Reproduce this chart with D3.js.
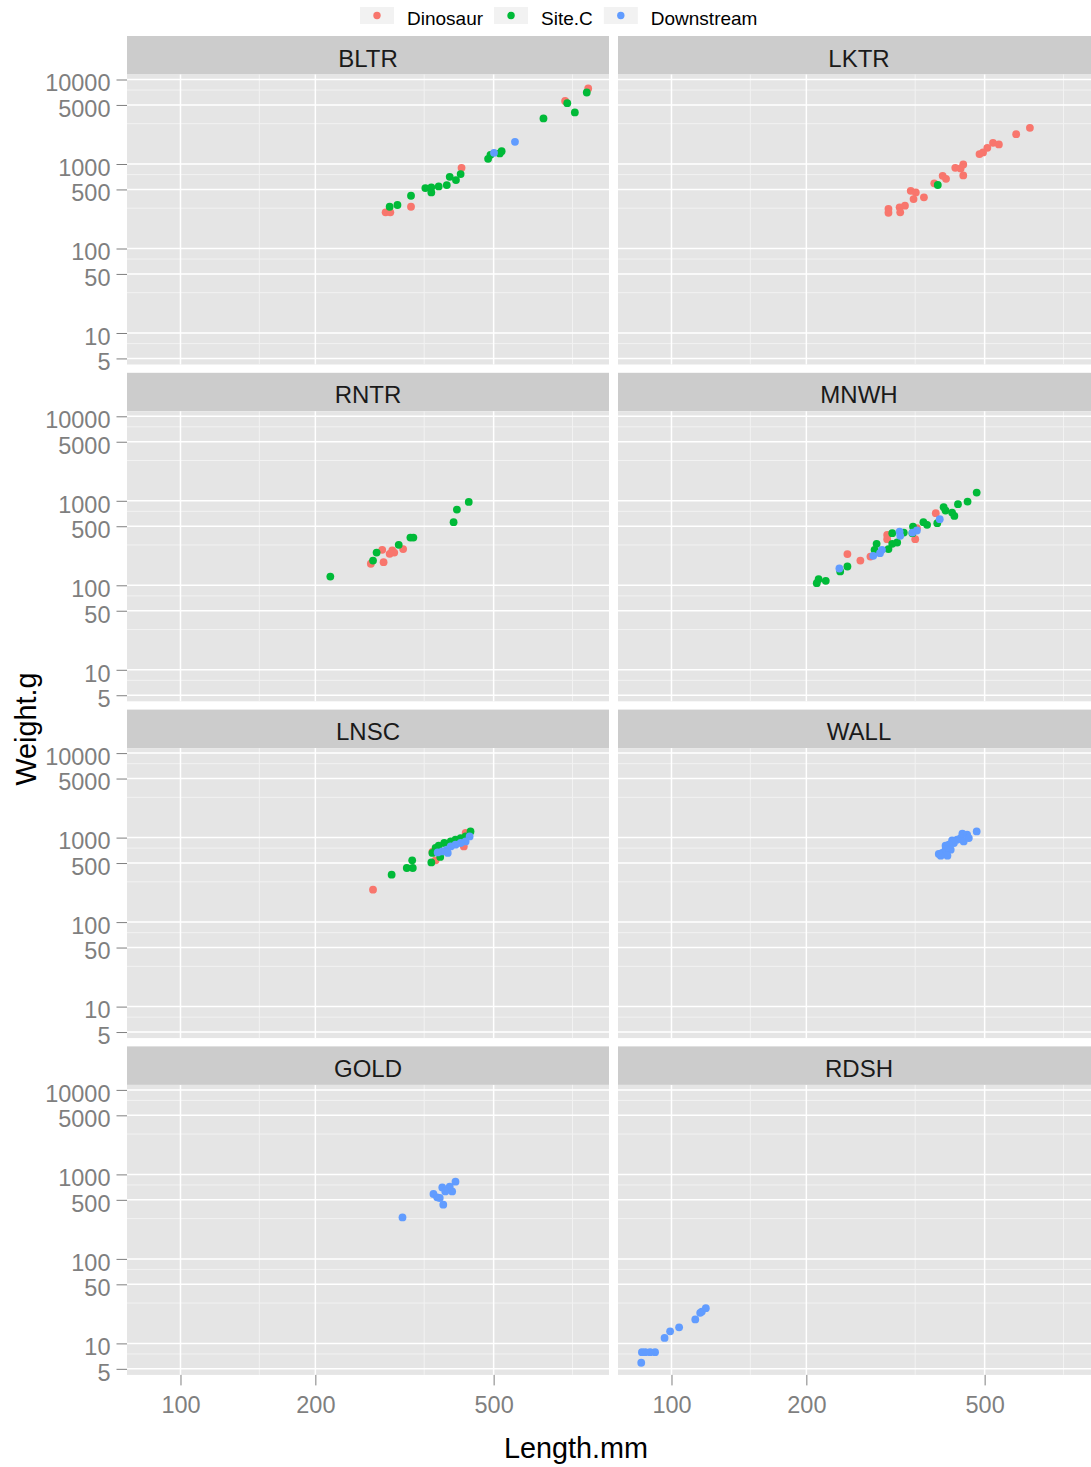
<!DOCTYPE html>
<html><head><meta charset="utf-8">
<script src="https://cdn.jsdelivr.net/npm/d3@7"></script>
<style>
body{margin:0;background:#fff}
text{font-family:"Liberation Sans",Arial,Helvetica,sans-serif}
</style>
</head><body>
<svg id="chart" width="1091" height="1467"></svg>
<script>
// ---------- data (length mm, weight g, group index) ----------
const sites = ["BLTR","LKTR","RNTR","MNWH","LNSC","WALL","GOLD","RDSH"];
const groups = ["Dinosaur","Site.C","Downstream"];
const xTicks = [100,200,500];
const yTicks = [5,10,50,100,500,1000,5000,10000];
const xMinor = [150,350,750];
const yMinor = [7.5,30,75,300,750,3000,7500];

const BLTR = [
 [813,7830,0],[722,5585,0],[424,901,0],[327,312,0],[287,268,0],[294,268,0],
 [807,7015,1],[730,5250,1],[759,4075,1],[646,3460,1],[521,1420,1],[516,1334,1],[486,1152,1],[492,1285,1],
 [422,760,1],[412,646,1],[399,706,1],[393,563,1],[377,543,1],[363,461,1],[363,529,1],[352,519,1],
 [327,421,1],[305,327,1],[293,312,1],
 [558,1828,2],[501,1356,2]
];
const LKTR = [
 [631,2680,0],[588,2254,0],[538,1706,0],[522,1783,0],[507,1554,0],[496,1371,0],[487,1309,0],[448,988,0],
 [442,887,0],[430,901,0],[448,733,0],[403,725,0],[410,668,0],[386,590,0],[342,482,0],[351,461,0],
 [366,403,0],[347,385,0],[332,321,0],[323,307,0],[324,268,0],[305,295,0],[305,265,0],
 [393,564,1]
];
const RNTR = [
 [282,263,0],[297,258,0],[293,236,0],[300,244,0],[314,268,0],[284,188,0],[266,180,0],
 [440,970,1],[414,787,1],[407,559,1],[331,367,1],[326,367,1],[307,301,1],[274,244,1],[269,196,1],[216,127,1]
];
const MNWH = [
 [389,713,0],[353,474,0],[350,351,0],[303,351,0],[303,395,0],[278,219,0],[264,196,0],[247,234,0],
 [480,1250,1],[458,978,1],[436,912,1],[428,663,1],[423,725,1],[409,766,1],[405,840,1],[392,543,1],
 [372,519,1],[365,558,1],[345,414,1],[346,496,1],[330,421,1],[319,321,1],[311,414,1],[311,310,1],
 [305,268,1],[287,310,1],[284,263,1],[247,167,1],[238,146,1],[221,113,1],[213,118,1],[211,106,1],
 [397,606,2],[353,445,2],[345,421,2],[323,432,2],[324,385,2],[295,263,2],[292,240,2],[282,223,2],[237,158,2]
];
const LNSC = [
 [269,242,0],[371,538,0],[429,787,0],[433,1133,0],[365,676,0],
 [444,1183,1],[433,1033,1],[422,988,1],[411,944,1],[401,901,1],[388,863,1],[377,802,1],[371,753,1],
 [365,658,1],[380,590,1],[363,509,1],[329,538,1],[330,437,1],[320,437,1],[296,364,1],
 [442,1033,2],[433,901,2],[422,863,2],[411,824,2],[401,787,2],[393,719,2],[384,687,2],[375,668,2],[395,658,2]
];
const WALL = [
 [480,1183,2],[457,1081,2],[446,1112,2],[442,988,2],[449,901,2],[434,944,2],[427,863,2],[423,927,2],
 [416,824,2],[409,802,2],[420,719,2],[409,719,2],[402,658,2],[395,640,2],[413,611,2],[399,611,2],[461,988,2]
];
const GOLD = [
 [411,820,2],[399,715,2],[384,702,2],[390,629,2],[404,629,2],[367,586,2],[374,535,2],[379,526,2],[386,438,2],[313,310,2]
];
const RDSH = [
 [119.3,26.1,2],[116.9,23.8,2],[115.9,23.0,2],[113,19.2,2],[104,15.5,2],[99.3,13.9,2],[96.5,11.6,2],
 [91.9,7.87,2],[89.6,7.87,2],[87.4,7.87,2],[85.9,7.87,2],[85.6,5.9,2]
];
const siteData = {BLTR, LKTR, RNTR, MNWH, LNSC, WALL, GOLD, RDSH};

// ---------- styles / layout ----------
const colors = ["#F8766D","#00BA38","#619CFF"];
const colX = [127, 618], panelW = 482, stripH = 38.5, panelH = 290, rowPitch = 336.8, top0 = 36;
const grey50 = "#7f7f7f";

const svg = d3.select("#chart");
svg.append("rect").attr("width",1091).attr("height",1467).attr("fill","#fff");

const x = d3.scaleLog().domain([Math.pow(10,1.8806), Math.pow(10,2.9565)]).range([0, panelW]);
const y = d3.scaleLog().domain([Math.pow(10,0.6272), Math.pow(10,4.0592)]).range([panelH, 0]);

sites.forEach((s, i) => {
  const col = i % 2, row = Math.floor(i / 2);
  const sx = colX[col], st = top0 + row * rowPitch, py = st + stripH;

  const strip = svg.append("g").attr("transform", `translate(${sx},${st})`);
  strip.append("rect").attr("width", panelW).attr("height", stripH).attr("fill", "#cccccc");
  strip.append("text").attr("x", panelW / 2).attr("y", 30.5).attr("text-anchor", "middle")
    .attr("font-size", 24).attr("fill", "#1a1a1a").text(s);

  const p = svg.append("g").attr("transform", `translate(${sx},${py})`);
  p.append("rect").attr("width", panelW).attr("height", panelH).attr("fill", "#e5e5e5");

  p.selectAll("line.ym").data(yMinor).join("line").attr("class","ym")
    .attr("x1", 0).attr("x2", panelW).attr("y1", d => y(d)).attr("y2", d => y(d))
    .attr("stroke", "#f2f2f2").attr("stroke-width", 1);
  p.selectAll("line.xm").data(xMinor).join("line").attr("class","xm")
    .attr("y1", 0).attr("y2", panelH).attr("x1", d => x(d)).attr("x2", d => x(d))
    .attr("stroke", "#f2f2f2").attr("stroke-width", 1);
  p.selectAll("line.yM").data(yTicks).join("line").attr("class","yM")
    .attr("x1", 0).attr("x2", panelW).attr("y1", d => y(d)).attr("y2", d => y(d))
    .attr("stroke", "#ffffff").attr("stroke-width", 1.5);
  p.selectAll("line.xM").data(xTicks).join("line").attr("class","xM")
    .attr("y1", 0).attr("y2", panelH).attr("x1", d => x(d)).attr("x2", d => x(d))
    .attr("stroke", "#ffffff").attr("stroke-width", 1.5);

  const pts = siteData[s].slice().sort((a, b) => a[2] - b[2]);
  p.selectAll("circle").data(pts).join("circle")
    .attr("cx", d => x(d[0])).attr("cy", d => y(d[1])).attr("r", 3.9)
    .attr("fill", d => colors[d[2]]);

  if (col === 0) {
    const ya = p.append("g").call(d3.axisLeft(y).tickValues(yTicks).tickFormat(d3.format("d")).tickSize(10.5).tickPadding(6));
    ya.select(".domain").remove();
    ya.selectAll("line").attr("stroke", grey50).attr("stroke-width", 1);
    ya.selectAll("text").attr("fill", grey50).attr("font-size", 23.5).attr("dy", "0.48em")
      .attr("font-family", '"Liberation Sans",Arial,sans-serif');
  }
  if (row === 3) {
    const xa = p.append("g").attr("transform", `translate(0,${panelH})`)
      .call(d3.axisBottom(x).tickValues(xTicks).tickFormat(d3.format("d")).tickSize(10.5).tickPadding(11));
    xa.select(".domain").remove();
    xa.selectAll("line").attr("stroke", grey50).attr("stroke-width", 1);
    xa.selectAll("text").attr("fill", grey50).attr("font-size", 23.5)
      .attr("font-family", '"Liberation Sans",Arial,sans-serif');
  }
});

// axis titles
svg.append("text").attr("x", 576).attr("y", 1458).attr("text-anchor", "middle")
  .attr("font-size", 28.8).attr("fill", "#000").text("Length.mm");
svg.append("text").attr("transform", "translate(36,729) rotate(-90)").attr("text-anchor", "middle")
  .attr("font-size", 28.8).attr("fill", "#000").text("Weight.g");

// legend
let lx = 360;
groups.forEach((g, i) => {
  svg.append("rect").attr("x", lx).attr("y", 7).attr("width", 34).attr("height", 17).attr("fill", "#f2f2f2");
  svg.append("circle").attr("cx", lx + 17).attr("cy", 15.5).attr("r", 3.7).attr("fill", colors[i]);
  const t = svg.append("text").attr("x", lx + 47).attr("y", 24.5).attr("font-size", 19).attr("fill", "#000").text(g);
  lx = lx + 47 + t.node().getComputedTextLength() + 11;
});
</script>
</body></html>
